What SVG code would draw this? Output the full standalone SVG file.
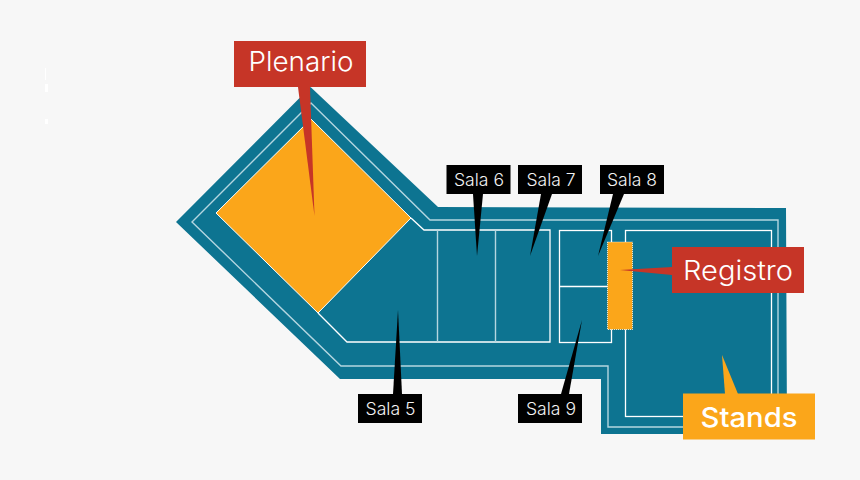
<svg xmlns="http://www.w3.org/2000/svg" width="860" height="480" viewBox="0 0 860 480">
<style>
text{font-family:"Inter","Liberation Sans",sans-serif;font-weight:300;text-anchor:middle}
.line{fill:none;stroke:#fff;stroke-width:1.3}
.soft{fill:none;stroke:#b4d6e0;stroke-width:1.4}
.red{fill:#c63527}
.org{fill:#fba61a}
.blk{fill:#000}
.big{fill:#fff;font-size:27.500px}
.small{fill:#f2f2f2;font-size:17.500px}
.mark{fill:#fff}
</style>
<rect width="860" height="480" fill="#f7f7f7"/>
<g id="marks"><rect class="mark" x="45" y="68" width="1" height="12"/><rect class="mark" x="45" y="84" width="3" height="8"/><rect class="mark" x="45" y="119" width="3" height="5"/></g>
<g id="floorplan">
<polygon points="310.500,87 438,207 786,208 787,434 601,434 601,379 340,379 176,222" fill="#0d7491"/>
<polygon class="soft" points="311,103 430,220 778,220 778,427 608,427 608,366 341,366 192,222"/>
<polyline class="line" points="411,218 424,230 550,230 550,342 347,342 318,313"/>
<path class="soft" d="M437.500 230V342M495.500 230V342"/>
<rect class="line" x="559.500" y="230.500" width="52" height="112"/>
<path class="line" d="M559.500 286.500H611"/>
<rect class="line" x="625.500" y="230.500" width="146" height="186"/>
</g>
<g id="plenario-room"><polygon class="org" stroke="#fff" stroke-width="1" points="311,119 411,218 318,313 216,213"/></g>
<g id="registro-room"><rect class="org" stroke="#fff" stroke-width="0.800" stroke-dasharray="1 1" x="607.500" y="242" width="25" height="87.500"/></g>
<g id="connectors">
<polygon class="red" points="298,87 310,87 314.500,216"/>
<polygon class="red" points="672,267 620,270 672,275"/>
<polygon class="org" points="722,355 725,394 738,394"/>
<polygon class="blk" points="473,194 483,194 477,256"/>
<polygon class="blk" points="541,194 552,194 530,256"/>
<polygon class="blk" points="613,194 624,194 598,256"/>
<polygon class="blk" points="393,394 402,394 398,310"/>
<polygon class="blk" points="561,394 569,394 582,320"/>
</g>
<g id="plenario"><rect class="red" x="234" y="41" width="132" height="46"/><text class="big" x="301" y="71" textLength="105" lengthAdjust="spacingAndGlyphs">Plenario</text></g>
<g id="registro"><rect class="red" x="672" y="247" width="132" height="46"/><text class="big" x="738" y="280" textLength="110" lengthAdjust="spacingAndGlyphs">Registro</text></g>
<g id="stands"><rect class="org" x="683" y="393.500" width="132" height="46"/><text class="big" x="749" y="427" style="font-weight:500" textLength="97" lengthAdjust="spacingAndGlyphs">Stands</text></g>
<g id="sala6"><rect class="blk" x="446.500" y="165" width="64" height="29"/><text class="small" x="479" y="186" textLength="50" lengthAdjust="spacingAndGlyphs">Sala 6</text></g>
<g id="sala7"><rect class="blk" x="518" y="165" width="64" height="29"/><text class="small" x="551" y="186" textLength="49" lengthAdjust="spacingAndGlyphs">Sala 7</text></g>
<g id="sala8"><rect class="blk" x="600" y="165" width="64" height="29"/><text class="small" x="632" y="186" textLength="50" lengthAdjust="spacingAndGlyphs">Sala 8</text></g>
<g id="sala5"><rect class="blk" x="358" y="394" width="64" height="29"/><text class="small" x="390.500" y="415" textLength="50" lengthAdjust="spacingAndGlyphs">Sala 5</text></g>
<g id="sala9"><rect class="blk" x="518" y="394" width="64" height="29"/><text class="small" x="551" y="415" textLength="50" lengthAdjust="spacingAndGlyphs">Sala 9</text></g>
</svg>
